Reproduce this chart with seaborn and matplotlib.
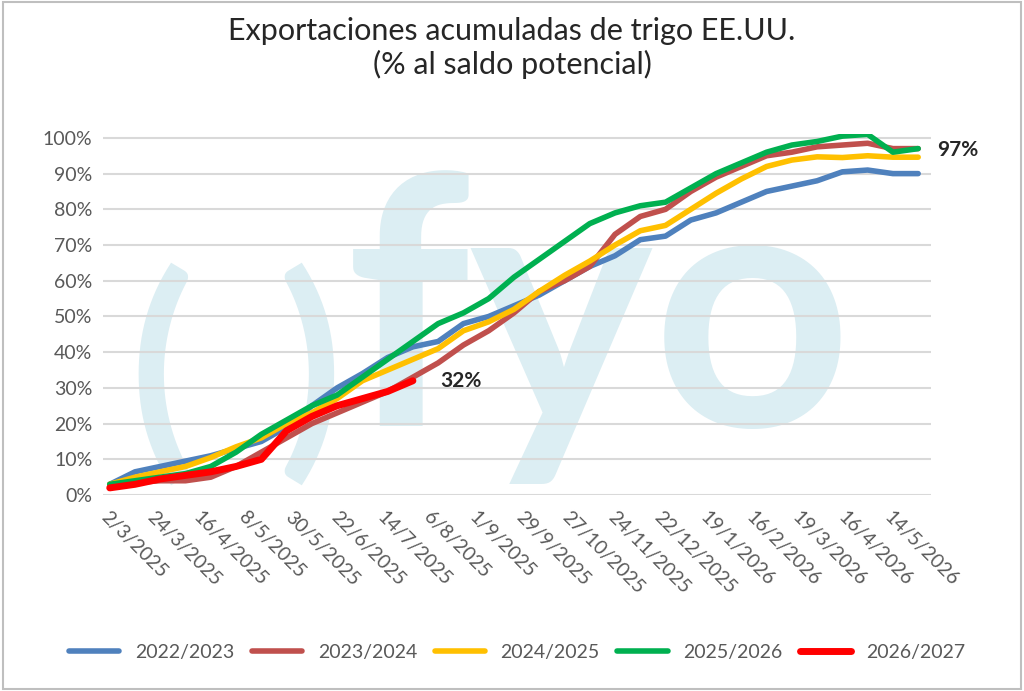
import numpy as np
import pandas as pd
import matplotlib
matplotlib.use("Agg")
import matplotlib.pyplot as plt
import seaborn as sns
from matplotlib.ticker import FuncFormatter

sns.set_theme(style="white")
plt.rcParams["font.family"] = ["Lato", "DejaVu Sans"]

tick_labels = ["2/3/2025", "24/3/2025", "16/4/2025", "8/5/2025", "30/5/2025", "22/6/2025",
               "14/7/2025", "6/8/2025", "1/9/2025", "29/9/2025", "27/10/2025", "24/11/2025",
               "22/12/2025", "19/1/2026", "16/2/2026", "19/3/2026", "16/4/2026", "14/5/2026"]
week = list(range(0, 65, 2))

s2223 = [3, 6.5, 8, 9.5, 11, 13, 15, 19, 25, 30, 34, 38.5, 41.5, 43, 48, 50, 53, 56, 60, 64,
         67, 71.5, 72.5, 77, 79, 82, 85, 86.5, 88, 90.5, 91, 90, 90]
s2324 = [3, 3.5, 4, 4, 5, 8, 12, 16, 20, 23, 26, 29, 33, 37, 42, 46, 51, 57, 60, 64, 73, 78,
         80, 85, 89, 92, 95, 96, 97.5, 98, 98.5, 97, 97]
s2425 = [3, 5, 6.5, 8, 10.5, 13.5, 16, 20, 23, 27, 32, 35, 38, 41, 46, 48.5, 52, 57, 61.5,
         65.5, 70, 74, 75.5, 80, 84.5, 88.5, 92, 93.8, 94.7, 94.5, 95, 94.6, 94.6]
s2526 = [3, 4, 5, 6, 8, 12, 17, 21, 25, 28, 33, 38, 43, 48, 51, 55, 61, 66, 71, 76, 79, 81,
         82, 86, 90, 93, 96, 98, 99, 100.5, 101, 96, 97]
s2627 = [2, 3, 4.5, 5.5, 6.5, 8, 10, 18, 22, 25, 27, 29, 32]

series = {"2022/2023": s2223, "2023/2024": s2324, "2024/2025": s2425,
          "2025/2026": s2526, "2026/2027": s2627}
colors = {"2022/2023": "#4F81BD", "2023/2024": "#C0504D", "2024/2025": "#FFC000",
          "2025/2026": "#00B050", "2026/2027": "#FF0000"}

rows = []
for name, vals in series.items():
    for w, v in zip(week, vals):
        rows.append({"semana": w, "valor": v, "campaña": name})
df = pd.DataFrame(rows)

fig = plt.figure(figsize=(10.24, 6.91), dpi=100)
ax = fig.add_axes([0.101, 0.2836, 0.808, 0.522])

# marca de agua
wm = dict(color="#DCEEF3", ha="center", va="center", fontweight="bold", zorder=0,
          transform=ax.transAxes)
ax.text(0.6, 0.47, "fyo", fontsize=250, **wm)
ax.text(0.07, 0.33, "(", fontsize=170, **wm)
ax.text(0.25, 0.33, ")", fontsize=170, **wm)

ax.yaxis.grid(True, color="#D9D9D9", lw=1.5, zorder=1)
for name in series:
    sub = df[df["campaña"] == name]
    sns.lineplot(data=sub, x="semana", y="valor", ax=ax, color=colors[name],
                 lw=5 if name == "2026/2027" else 4, label=name, zorder=3)

ax.set_xlim(-0.5, 65)
ax.set_ylim(0, 101)
ax.set_yticks(range(0, 101, 10))
ax.yaxis.set_major_formatter(FuncFormatter(lambda v, p: f"{v:.0f}%"))
ax.set_xticks(np.linspace(0, 62, len(tick_labels)))
ax.set_xticklabels(tick_labels, rotation=-45, ha="left", va="top",
                   rotation_mode="anchor", fontsize=14, color="#595959")
ax.tick_params(axis="y", labelsize=14, labelcolor="#595959", pad=2)
ax.set_xlabel("")
ax.set_ylabel("")
for sp in ax.spines.values():
    sp.set_visible(False)

ax.text(65.5, 96.5, "97%", fontsize=15, fontweight="bold", va="center", clip_on=False)
ax.text(26.2, 32, "32%", fontsize=15, fontweight="bold", va="center", zorder=4)

fig.suptitle("Exportaciones acumuladas de trigo EE.UU.\n(% al saldo potencial)",
             fontsize=22, y=0.975)
h, l = ax.get_legend_handles_labels()
ax.legend_.remove()
fig.legend(h, l, loc="center", bbox_to_anchor=(0.505, 0.056), ncol=5, frameon=False,
           fontsize=14, handlelength=2.6, columnspacing=0.9, labelcolor="#595959")

fig.patches.append(plt.Rectangle((0.003, 0.003), 0.994, 0.994, transform=fig.transFigure,
                                 fill=False, edgecolor="#BFBFBF", lw=1.5))
fig.savefig("out.png", dpi=100)
